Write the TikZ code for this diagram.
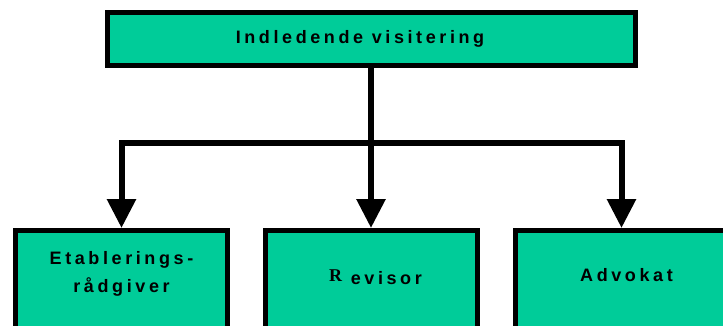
\documentclass[tikz,border=0pt]{standalone}
\usepackage{fontspec}
\usetikzlibrary{arrows.meta}
\newfontfamily\labfont[LetterSpace=20]{Liberation Sans}
\newfontfamily\serifR{Liberation Serif}
\definecolor{boxgreen}{RGB}{0,204,153}
\begin{document}
\begin{tikzpicture}[x=1pt,y=-1pt,
  box/.style={draw=black, fill=boxgreen, line width=5pt, rectangle, inner sep=0pt, line join=miter},
  lbl/.style={font=\fontsize{18}{28}\selectfont\labfont\bfseries, inner sep=0pt, text=black},
  conn/.style={draw=black, line width=6pt, line join=miter},
  arr/.style={conn, -{Triangle[width=28pt,length=29pt]}}]
\useasboundingbox (0,0) rectangle (723,325);
% boxes
\node[box, minimum width=528pt, minimum height=53pt] (top) at (371,39) {};
\node[box, minimum width=212pt, minimum height=114.5pt] (b1) at (121.5,287.75) {};
\node[box, minimum width=212pt, minimum height=114.5pt] (b2) at (371,287.75) {};
\node[box, minimum width=212pt, minimum height=114.5pt] (b3) at (621.5,287.75) {};
% labels
\node[lbl, anchor=base] (ttop) at (360,43.5) {Indledende visitering};
\node[lbl, align=center] (t1) at (121.5,274) {Etablerings-\\rådgiver};
\node[lbl, anchor=base] (t2) at (375.5,284.5) {\raisebox{3pt}{\serifR\bfseries R} evisor};
\node[lbl, anchor=base] (t3) at (626.5,281) {Advokat};
% connectors
\coordinate (j) at (371,143);
\draw[conn] (top.south) -- (j);
\draw[arr] (j) -| (b1.north);
\draw[arr] (j) -- (b2.north);
\draw[arr] (j) -| (b3.north);
\end{tikzpicture}
\end{document}
